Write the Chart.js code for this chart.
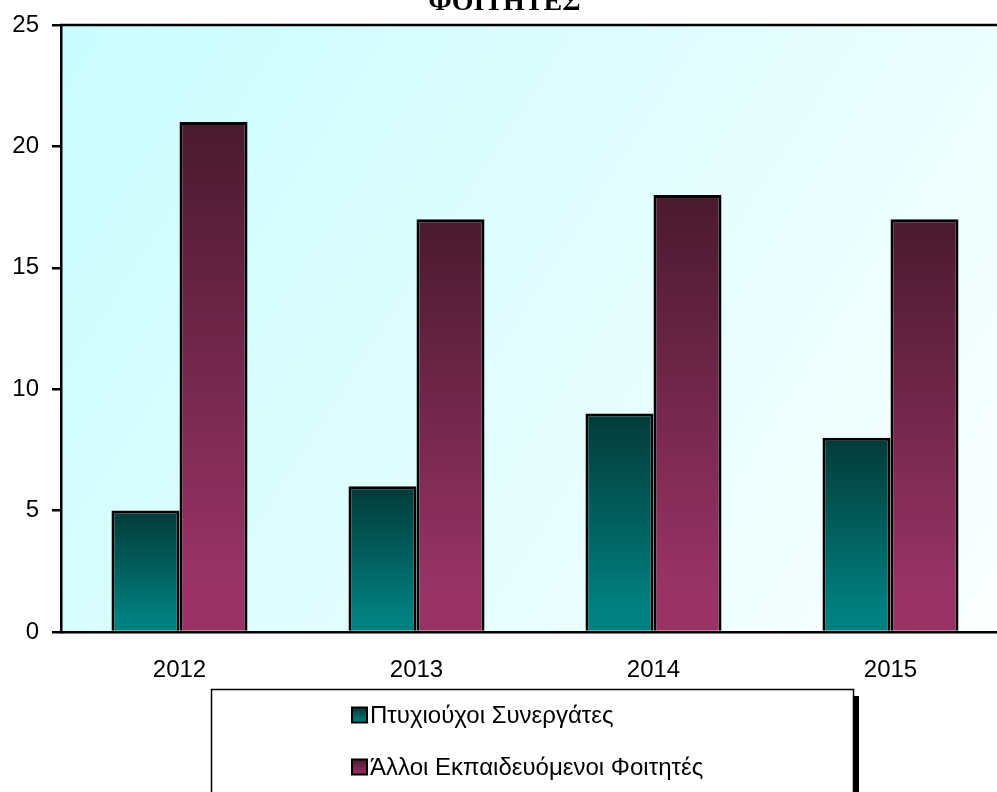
<!DOCTYPE html>
<html>
<head>
<meta charset="utf-8">
<script src="https://cdn.jsdelivr.net/npm/chart.js@4/dist/chart.umd.min.js"></script>
<style>
  html, body { margin: 0; padding: 0; background: #fff; overflow: hidden; width: 997px; height: 792px; }
  #wrap { position: absolute; left: 0; top: -20px; width: 1012px; height: 830px; }
</style>
</head>
<body>
<div id="wrap"><canvas id="c" width="1012" height="830"></canvas></div>
<script>
// Data
const years = ['2012', '2013', '2014', '2015'];
const graduates = [5, 6, 9, 8];
const otherStudents = [21, 17, 18, 17];
const yTicks = [0, 5, 10, 15, 20, 25];
const seriesNames = ['Πτυχιούχοι Συνεργάτες', 'Άλλοι Εκπαιδευόμενοι Φοιτητές'];
const chartTitle = 'ΦΟΙΤΗΤΕΣ';

// Colours: dark top, light bottom for each series
const tealStops = ['#033a38', '#008080'];
const plumStops = ['#4a1a2e', '#993366'];
const sansFont = "'Liberation Sans', Arial, sans-serif";

// Vertical gradient spanning each bar from its value down to zero
function barGradient(stops) {
  return (ctx) => {
    const chart = ctx.chart;
    const y = chart.scales && chart.scales.y;
    if (!y || ctx.type !== 'data' || !chart.chartArea) return stops[1];
    const v = ctx.parsed ? ctx.parsed.y : ctx.raw;
    const y0 = y.getPixelForValue(0);
    const y1 = y.getPixelForValue(v);
    if (!isFinite(y0) || !isFinite(y1) || y0 === y1) return stops[1];
    const g = chart.ctx.createLinearGradient(0, y1, 0, y0);
    g.addColorStop(0, stops[0]);
    g.addColorStop(0.9, stops[1]);
    g.addColorStop(1, stops[1]);
    return g;
  };
}

// Pale cyan wash behind the plot and a heavy frame line along its top
const plotBackground = {
  id: 'plotBackground',
  beforeDraw(chart) {
    const { ctx, chartArea: a } = chart;
    if (!a) return;
    const g = ctx.createLinearGradient(a.left, a.top, a.right, a.bottom);
    g.addColorStop(0, '#c9fcff');
    g.addColorStop(1, '#fbfffe');
    ctx.save();
    ctx.fillStyle = g;
    ctx.fillRect(a.left, a.top, a.right - a.left, a.bottom - a.top);
    ctx.restore();
  },
  afterDraw(chart) {
    const { ctx, chartArea: a } = chart;
    ctx.save();
    ctx.strokeStyle = '#000';
    ctx.lineWidth = 2.5;
    ctx.beginPath();
    ctx.moveTo(a.left - 1, a.top);
    ctx.lineTo(a.right, a.top);
    ctx.stroke();
    ctx.restore();
  }
};

// Framed legend with a drop shadow below the axis
const boxedLegend = {
  id: 'boxedLegend',
  afterDraw(chart) {
    const { ctx, chartArea: a } = chart;
    const boxW = 642;
    const left = Math.round((a.left + a.right) / 2 - 3 - boxW / 2);
    const top = Math.round(a.bottom + 57);
    const bottom = chart.height + 10;
    ctx.save();
    ctx.fillStyle = '#000';
    ctx.fillRect(left + boxW, top + 7, 6, bottom - top);
    ctx.fillStyle = '#fff';
    ctx.fillRect(left, top, boxW, bottom - top);
    ctx.strokeStyle = '#000';
    ctx.lineWidth = 1.5;
    ctx.strokeRect(left + 0.5, top + 0.5, boxW, bottom - top);

    const stopsList = [tealStops, plumStops];
    chart.data.datasets.forEach((ds, i) => {
      const cy = top + 26 + i * 52;
      const mx = left + 141, size = 15;
      const g = ctx.createLinearGradient(0, cy - size / 2, 0, cy + size / 2);
      g.addColorStop(0, stopsList[i][0]);
      g.addColorStop(1, stopsList[i][1]);
      ctx.fillStyle = g;
      ctx.fillRect(mx, cy - size / 2, size, size);
      ctx.lineWidth = 2;
      ctx.strokeStyle = '#000';
      ctx.strokeRect(mx, cy - size / 2, size, size);
      ctx.fillStyle = '#000';
      ctx.font = '24px ' + sansFont;
      ctx.textBaseline = 'middle';
      ctx.textAlign = 'left';
      ctx.fillText(ds.label, mx + size + 3, cy + 1);
    });
    ctx.restore();
  }
};

new Chart(document.getElementById('c'), {
  type: 'bar',
  data: {
    labels: years,
    datasets: [
      { label: seriesNames[0], data: graduates, backgroundColor: barGradient(tealStops), borderColor: '#000', borderWidth: 3 },
      { label: seriesNames[1], data: otherStudents, backgroundColor: barGradient(plumStops), borderColor: '#000', borderWidth: 3 }
    ]
  },
  options: {
    responsive: false,
    animation: false,
    layout: { padding: { top: 0, left: 0, right: 3, bottom: 118 } },
    datasets: { bar: { categoryPercentage: 0.574, barPercentage: 1 } },
    plugins: {
      legend: { display: false },
      tooltip: { enabled: false },
      title: {
        display: true,
        text: chartTitle,
        color: '#000',
        font: { family: "'Liberation Serif', 'Times New Roman', serif", size: 28, weight: 'bold', lineHeight: 1.2 },
        padding: { top: 6, bottom: 5.4 }
      }
    },
    scales: {
      x: {
        grid: { display: true, drawOnChartArea: false, drawTicks: false },
        border: { display: true, color: '#000', width: 2.5 },
        ticks: { color: '#000', font: { family: sansFont, size: 24 }, padding: 24 },
        afterFit(scale) { scale.height = 60; }
      },
      y: {
        min: 0,
        max: 25,
        afterBuildTicks(scale) { scale.ticks = yTicks.map(v => ({ value: v })); },
        grid: { display: true, drawOnChartArea: false, drawTicks: true, tickLength: 9, color: '#000', lineWidth: 2.5 },
        border: { display: true, color: '#000', width: 2.5 },
        ticks: { color: '#000', font: { family: sansFont, size: 24 }, padding: 13 },
        afterFit(scale) { scale.width = 61; }
      }
    }
  },
  plugins: [plotBackground, boxedLegend]
});
</script>
</body>
</html>
